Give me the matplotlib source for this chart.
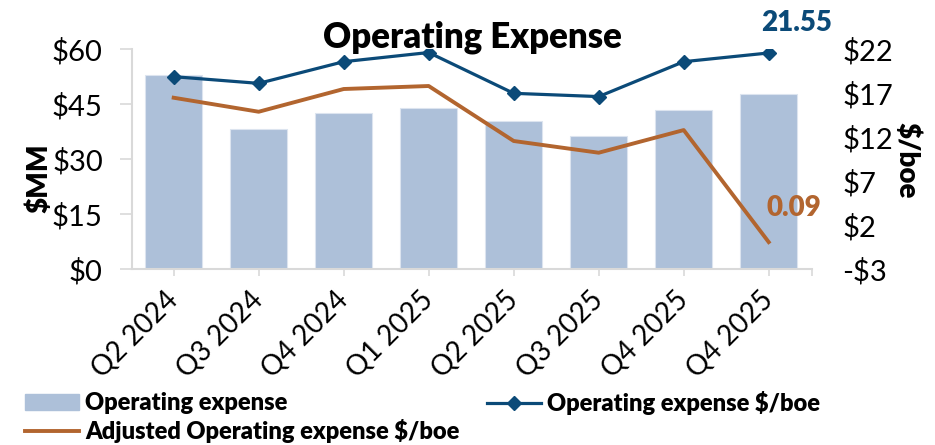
import numpy as np
import matplotlib.pyplot as plt
from matplotlib.lines import Line2D
from matplotlib.patches import Patch

plt.rcParams['font.family'] = ['Lato', 'DejaVu Sans']

quarters = ['Q2 2024', 'Q3 2024', 'Q4 2024', 'Q1 2025', 'Q2 2025', 'Q3 2025', 'Q4 2025', 'Q4 2025']
opex_mm = [53.0, 38.3, 42.7, 43.8, 40.3, 36.4, 43.5, 47.8]
opex_boe = [18.86, 18.1, 20.56, 21.6, 16.97, 16.6, 20.56, 21.55]
adj_opex_boe = [16.47, 14.88, 17.46, 17.8, 11.56, 10.23, 12.8, 0.09]

bar_col = '#ADC0D9'
blue = '#0B4A78'
orange = '#B2652F'
grey = '#D9D9D9'
heavy = 'heavy'

fig = plt.figure(figsize=(9.35, 4.45), dpi=100)
ax = fig.add_axes([0.1412, 0.3948, 0.7273, 0.4951])
x = np.arange(len(quarters))
ax.bar(x, opex_mm, width=0.667, color=bar_col, edgecolor='#DCE4EF', lw=0.8, zorder=1)
ax.set_ylim(0, 60)
ax.set_yticks([0, 15, 30, 45, 60])
ax.set_yticklabels(['$0', '$15', '$30', '$45', '$60'], fontsize=21)
ax.set_xlim(-0.49, 7.51)
ax.set_xticks(x)
ax.set_xticks([7.51], minor=True)
ax.set_xticklabels(quarters, rotation=45, ha='right', va='center', rotation_mode='anchor', fontsize=20)
ax.tick_params(axis='y', length=9, color=grey, width=1.2, pad=12)
ax.tick_params(axis='x', which='both', length=5, color=grey, width=1.2, pad=14)
ax.spines['top'].set_visible(False)
ax.spines['right'].set_visible(False)
for s in ['left', 'bottom']:
    ax.spines[s].set_color(grey)
    ax.spines[s].set_linewidth(1.5)

ax2 = ax.twinx()
ax2.plot(x, opex_boe, color=blue, lw=2.3, marker='D', ms=7, zorder=3)
ax2.plot(x, adj_opex_boe, color=orange, lw=2.8, zorder=3)
ax2.set_ylim(-3, 22)
ax2.set_yticks([-3, 2, 7, 12, 17, 22])
ax2.set_yticklabels(['-$3', '$2', '$7', '$12', '$17', '$22'], fontsize=21)
ax2.tick_params(axis='y', length=0, pad=22)
for s in ['top', 'right', 'left', 'bottom']:
    ax2.spines[s].set_visible(False)

ax2.annotate(f'{opex_boe[-1]:.2f}', (x[-1], opex_boe[-1]), xytext=(20, 16), textcoords='offset points',
             color=blue, fontsize=20, fontweight=heavy, ha='center', va='baseline')
ax2.annotate(f'{adj_opex_boe[-1]:.2f}', (x[-1], adj_opex_boe[-1]), xytext=(18, 19), textcoords='offset points',
             color=orange, fontsize=20, fontweight=heavy, ha='center', va='baseline')

fig.text(39 / 935, 1 - 178 / 445, '$MM', rotation=90, ha='center', va='center', fontsize=20, fontweight=heavy)
fig.text(907 / 935, 1 - 160 / 445, '$/boe', rotation=-90, ha='center', va='center', fontsize=20, fontweight=heavy)
fig.text(0.505, 1 - 47 / 445, 'Operating Expense', ha='center', va='baseline', fontsize=25, fontweight=heavy)

fig.legend([Patch(color=bar_col), Line2D([], [], color=orange, lw=2.8)],
           ['Operating expense', 'Adjusted Operating expense $/boe'],
           loc='center left', bbox_to_anchor=(25 / 935, 1 - 417.5 / 445), frameon=False,
           prop={'size': 17, 'weight': heavy}, handlelength=2.3, handletextpad=0.25,
           labelspacing=0.2, borderpad=0, borderaxespad=0)
fig.legend([Line2D([], [], color=blue, lw=2.3, marker='D', ms=7)], ['Operating expense $/boe'],
           loc='center left', bbox_to_anchor=(487 / 935, 1 - 403 / 445), frameon=False,
           prop={'size': 17, 'weight': heavy}, handlelength=2.3, handletextpad=0.25,
           borderpad=0, borderaxespad=0)

fig.savefig('out.png', dpi=100)
